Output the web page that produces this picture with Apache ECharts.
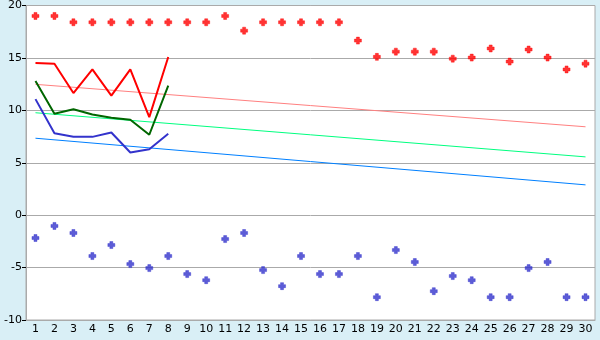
<!DOCTYPE html>
<html><head><meta charset="utf-8">
<script src="https://cdn.jsdelivr.net/npm/echarts@6/dist/echarts.min.js"></script>
<style>html,body{margin:0;padding:0;background:#d9eff6}#c{width:600px;height:340px}</style>
</head><body><div id="c"></div>
<script>
const categories = Array.from({length:30},(_,i)=>String(i+1));
const yTicks = [-10,-5,0,5,10,15,20];
const redDots = [19,19,18.4,18.4,18.4,18.4,18.4,18.4,18.4,18.4,19,17.6,18.4,18.4,18.4,18.4,18.4,16.65,15.1,15.6,15.6,15.6,14.93,15.03,15.9,14.65,15.8,15.03,13.9,14.45];
const blueDots = [-2.18,-1.03,-1.7,-3.9,-2.85,-4.67,-5.05,-3.9,-5.62,-6.2,-2.28,-1.7,-5.24,-6.77,-3.9,-5.62,-5.62,-3.9,-7.82,-3.33,-4.47,-7.25,-5.81,-6.2,-7.82,-7.82,-5.05,-4.47,-7.82,-7.82];
const redLine = [14.51,14.45,11.65,13.9,11.4,13.9,9.35,15.09];
const greenLine = [12.8,9.67,10.1,9.6,9.3,9.1,7.67,12.35];
const blueLine = [11.07,7.82,7.47,7.47,7.89,5.98,6.29,7.76];
const redTrend = [['1',12.48],['30',8.43]];
const greenTrend = [['1',9.77],['30',5.56]];
const blueTrend = [['1',7.34],['30',2.89]];
const plus = 'path://M2,0H5V2H7V5H5V7H2V5H0V2H2Z';
const chart = echarts.init(document.getElementById('c'));
chart.setOption({
  backgroundColor:'#d9eff6',
  animation:false,
  textStyle:{fontFamily:'DejaVu Sans'},
  grid:{left:26,right:5,top:5,bottom:20,show:true,backgroundColor:'#ffffff',borderColor:'#aaaaaa',borderWidth:1},
  xAxis:{type:'category',data:categories,boundaryGap:true,
    axisLine:{onZero:false,lineStyle:{color:'#aaaaaa'}},
    axisTick:{alignWithLabel:true,length:5,lineStyle:{color:'#000000'}},
    axisLabel:{color:'#000000',fontSize:11,margin:4,interval:0},
    splitLine:{show:false}},
  yAxis:{type:'value',min:yTicks[0],max:yTicks[yTicks.length-1],interval:5,
    axisLine:{show:true,lineStyle:{color:'#aaaaaa'}},
    axisTick:{show:true,length:4,lineStyle:{color:'#000000'}},
    axisLabel:{color:'#000000',fontSize:11,margin:4},
    splitLine:{lineStyle:{color:'#aaaaaa',width:1}}},
  series:[
    {type:'line',data:redTrend,symbol:'none',lineStyle:{color:'#ff8080',width:1}},
    {type:'line',data:greenTrend,symbol:'none',lineStyle:{color:'#00ff80',width:1}},
    {type:'line',data:blueTrend,symbol:'none',lineStyle:{color:'#0080ff',width:1}},
    {type:'line',data:redLine,symbol:'none',lineStyle:{color:'#ff0000',width:2}},
    {type:'line',data:greenLine,symbol:'none',lineStyle:{color:'#006600',width:2}},
    {type:'line',data:blueLine,symbol:'none',lineStyle:{color:'#3333cc',width:2}},
    {type:'scatter',data:redDots,symbol:plus,symbolSize:7,itemStyle:{color:'#ff0000',borderColor:'#ff0000',borderWidth:0.5}},
    {type:'scatter',data:blueDots,symbol:plus,symbolSize:7,itemStyle:{color:'#3333cc',borderColor:'#3333cc',borderWidth:0.5}}
  ]
});
</script></body></html>
